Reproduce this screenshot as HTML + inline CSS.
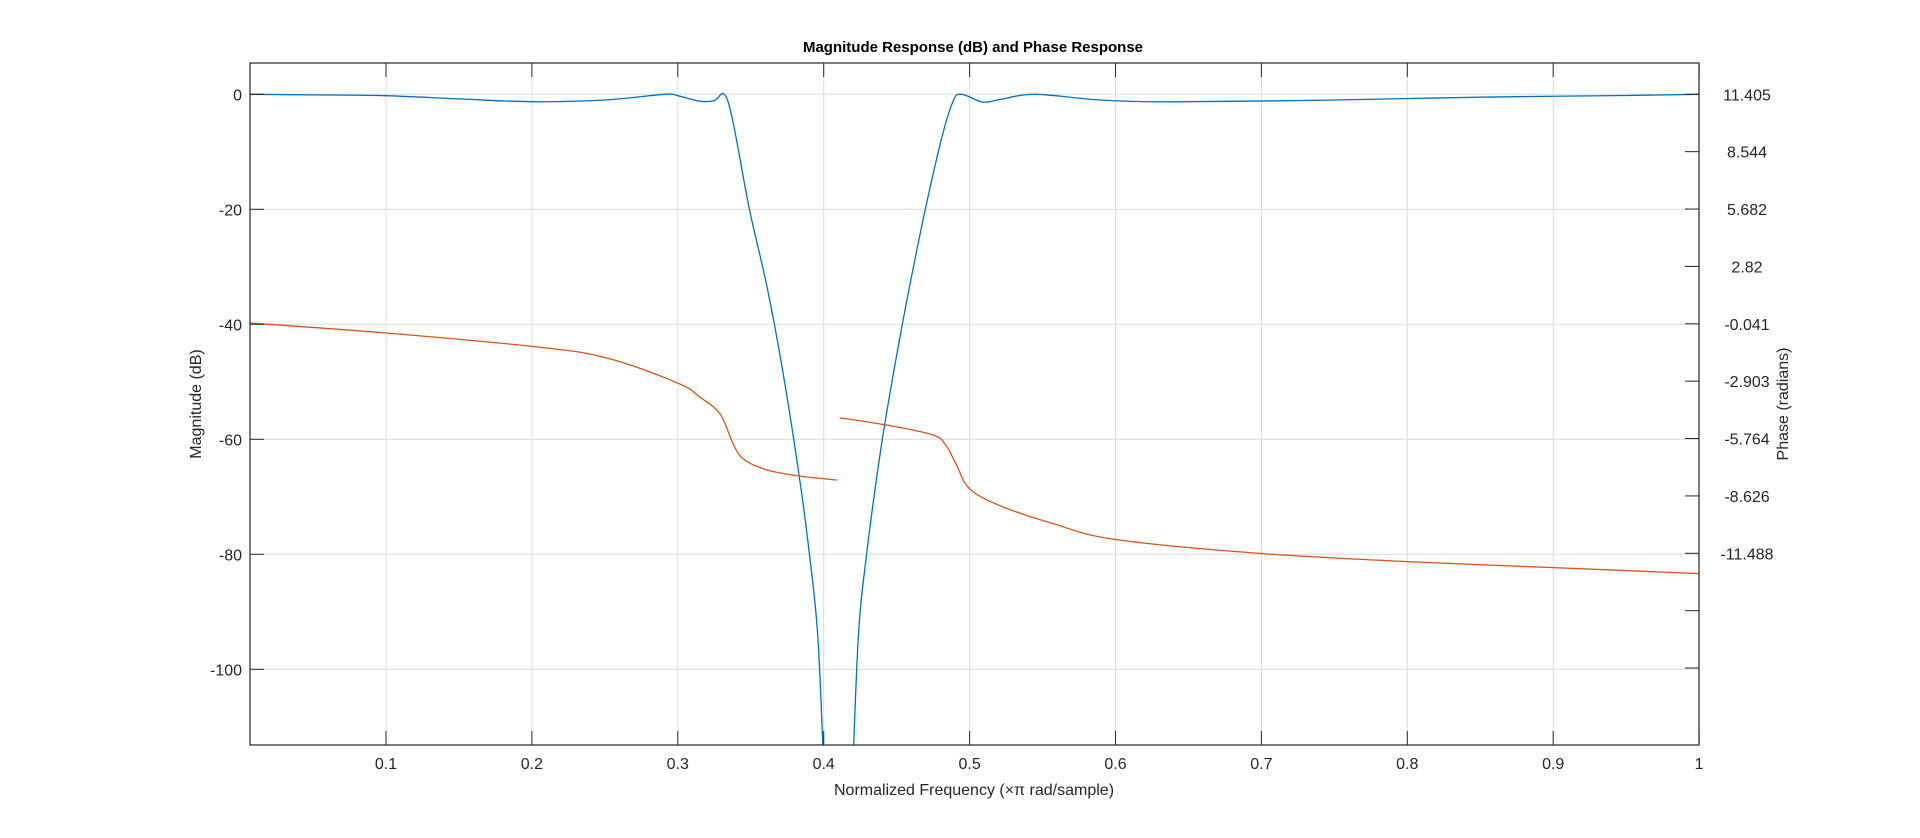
<!DOCTYPE html>
<html><head><meta charset="utf-8"><style>
html,body{margin:0;padding:0;background:#fff;}
svg{display:block;font-family:"Liberation Sans",Arial,sans-serif;}
</style></head><body>
<svg id="chart" width="1920" height="838" viewBox="0 0 1920 838" xmlns="http://www.w3.org/2000/svg">
<rect x="0" y="0" width="1920" height="838" fill="#fff"/>
<g id="grid"></g>
<g id="series"></g>
<g id="axes"></g>
<text x="973" y="52" text-anchor="middle" font-size="15" font-weight="bold" fill="#000">Magnitude Response (dB) and Phase Response</text>
<text x="974" y="795" text-anchor="middle" font-size="16" fill="#262626">Normalized Frequency (×π rad/sample)</text>
<text transform="translate(201,404) rotate(-90)" text-anchor="middle" font-size="16" fill="#262626">Magnitude (dB)</text>
<text transform="translate(1788,404) rotate(-90)" text-anchor="middle" font-size="16" fill="#262626">Phase (radians)</text>
</svg>
<script>
const xTicks=[0.1,0.2,0.3,0.4,0.5,0.6,0.7,0.8,0.9,1];
const xTickLabels=["0.1","0.2","0.3","0.4","0.5","0.6","0.7","0.8","0.9","1"];
const magTicks=[0,-20,-40,-60,-80,-100];
const magTickLabels=["0","-20","-40","-60","-80","-100"];
const phaseTicks=[11.405,8.544,5.682,2.82,-0.041,-2.903,-5.764,-8.626,-11.488,-14.35,-17.21];
const phaseTickLabels=["11.405","8.544","5.682","2.82","-0.041","-2.903","-5.764","-8.626","-11.488","",""];
const magFreq=[0.0068,0.05,0.1,0.15,0.2,0.25,0.291,0.30,0.315,0.325,0.332,0.338,0.349,0.361,0.372,0.383,0.390,0.396,0.4005,0.4196,0.4237,0.4294,0.4397,0.4523,0.4661,0.4798,0.4887,0.4946,0.509,0.521,0.545,0.59,0.64,0.75,0.85,0.95,1.0];
const magDb=[0,-0.1,-0.25,-0.8,-1.28,-1.0,0,-0.25,-1.2,-1.1,0,-5,-19.9,-33.3,-48.2,-66,-79.5,-94.5,-120,-120,-94.5,-80,-60.8,-42.2,-24.3,-8.7,-1.2,0,-1.35,-0.9,0,-1,-1.3,-1,-0.5,-0.2,0];
const phFreq1=[0.0068,0.1,0.2,0.25,0.30,0.315,0.329,0.338,0.345,0.361,0.383,0.409];
const phRad1=[0,-0.5,-1.17,-1.72,-3.0,-3.69,-4.54,-6.04,-6.79,-7.33,-7.63,-7.83];
const phFreq2=[0.411,0.443,0.475,0.484,0.491,0.5,0.521,0.557,0.6,0.7,0.8,0.9,1.0];
const phRad2=[-4.73,-5.09,-5.59,-6.13,-7.08,-8.27,-9.12,-10.0,-10.8,-11.5,-11.9,-12.2,-12.5];

const L=250,R=1699,T=63,B=745;
const fx=f=>240.1+f*1459;
const fy=d=>94.3-d*5.75;
const fp=p=>94.3+(11.405-p)*20.05;
const NS="http://www.w3.org/2000/svg";
function mk(tag,attrs,parent){const e=document.createElementNS(NS,tag);for(const k in attrs)e.setAttribute(k,attrs[k]);parent.appendChild(e);return e;}
const grid=document.getElementById('grid'),axes=document.getElementById('axes'),series=document.getElementById('series');
xTicks.forEach((t,i)=>{const x=fx(t);
 if(x<R-1){const g=mk('line',{x1:x,y1:T,x2:x,y2:B,stroke:'#dcdcdc','stroke-width':1},grid);
 
 }
 const a=mk('line',{x1:x,y1:B,x2:x,y2:B-14,stroke:'#262626','stroke-width':1},axes);
 
 
 const b=mk('line',{x1:x,y1:T,x2:x,y2:T+14,stroke:'#262626','stroke-width':1},axes);
 
 
 const l=mk('text',{x:x,y:769,'text-anchor':'middle','font-size':16,fill:'#262626'},axes);l.textContent=xTickLabels[i];
 
 
});
magTicks.forEach((t,i)=>{const y=fy(t);
 const g=mk('line',{x1:L,y1:y,x2:R,y2:y,stroke:'#dcdcdc','stroke-width':1},grid);
 
 
 const a=mk('line',{x1:L,y1:y,x2:L+14,y2:y,stroke:'#262626','stroke-width':1},axes);
 
 
 const l=mk('text',{x:242,y:y+6,'text-anchor':'end','font-size':16,fill:'#262626'},axes);l.textContent=magTickLabels[i];
 
 
});
phaseTicks.forEach((t,i)=>{const y=fp(t);if(y>B)return;
 const a=mk('line',{x1:R,y1:y,x2:R-14,y2:y,stroke:'#262626','stroke-width':1},axes);
 
 
 if(phaseTickLabels[i]){const l=mk('text',{x:1747,y:y+6,'text-anchor':'middle','font-size':16,fill:'#262626'},axes);l.textContent=phaseTickLabels[i];
 
 }
});
const box=mk('rect',{x:L,y:T,width:R-L,height:B-T,fill:'none',stroke:'#262626','stroke-width':1.2},axes);


function smooth(P){
 let d='M'+P[0][0].toFixed(1)+','+P[0][1].toFixed(1);
 for(let i=0;i<P.length-1;i++){
  const p0=P[Math.max(0,i-1)],p1=P[i],p2=P[i+1],p3=P[Math.min(P.length-1,i+2)];
  const t=1/6;
  let c1x=p1[0]+(p2[0]-p0[0])*t,c1y=p1[1]+(p2[1]-p0[1])*t;
  let c2x=p2[0]-(p3[0]-p1[0])*t,c2y=p2[1]-(p3[1]-p1[1])*t;
  c1x=Math.min(Math.max(c1x,p1[0]),p2[0]);c2x=Math.min(Math.max(c2x,p1[0]),p2[0]);
  d+=' C'+c1x.toFixed(1)+','+c1y.toFixed(1)+' '+c2x.toFixed(1)+','+c2y.toFixed(1)+' '+p2[0].toFixed(1)+','+p2[1].toFixed(1);
 }
 return d;}
function path(xs,ys,yf){
 const P=xs.map((f,i)=>[fx(f),yf(ys[i])]);
 // split where consecutive points are both below the plot bottom
 const parts=[];let cur=[P[0]];
 for(let i=1;i<P.length;i++){
  if(P[i][1]>B&&P[i-1][1]>B){parts.push(cur);cur=[P[i]];}else cur.push(P[i]);
 }
 parts.push(cur);
 return parts.filter(p=>p.length>1).map(smooth).join(' ');}
const cp=mk('clipPath',{id:'clip'},series);mk('rect',{x:L,y:T,width:R-L,height:B-T},cp);
const m=mk('path',{d:path(magFreq,magDb,fy),fill:'none',stroke:'#0072bd','stroke-width':1.3,'clip-path':'url(#clip)'},series);


const p1=mk('path',{d:path(phFreq1,phRad1,fp),fill:'none',stroke:'#d95319','stroke-width':1.3},series);


const p2=mk('path',{d:path(phFreq2,phRad2,fp),fill:'none',stroke:'#d95319','stroke-width':1.3},series);


</script>
</body></html>
